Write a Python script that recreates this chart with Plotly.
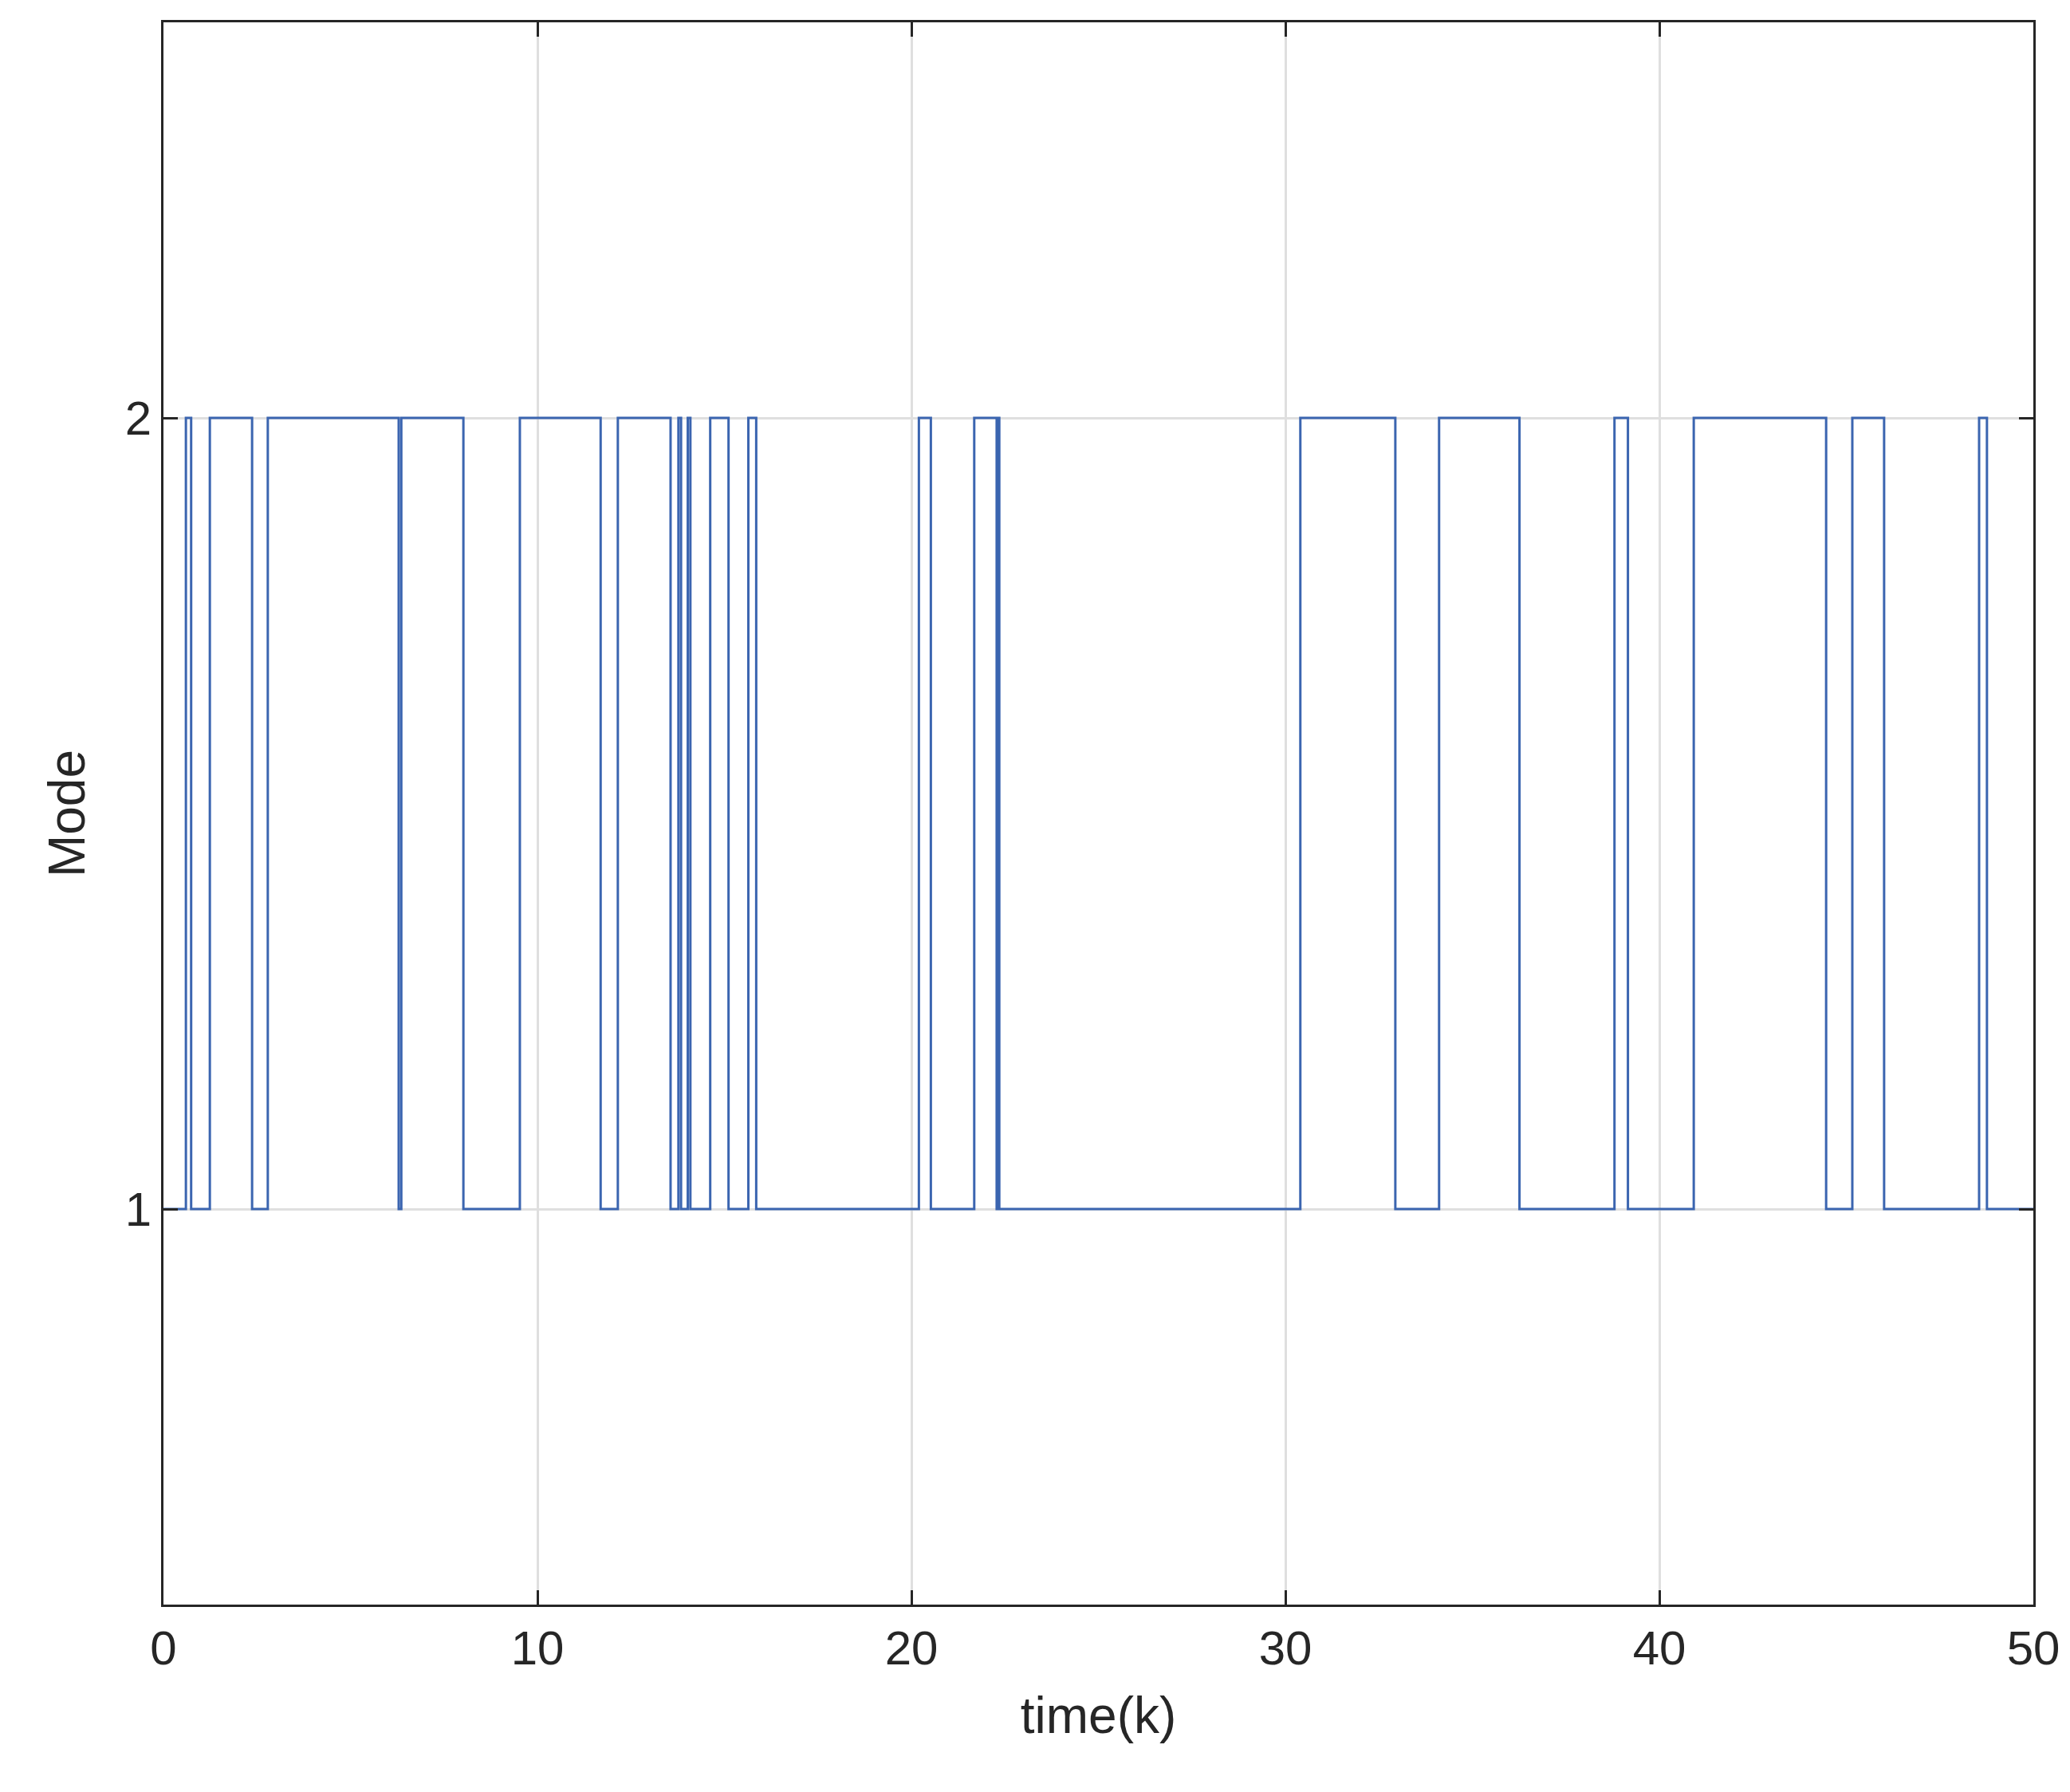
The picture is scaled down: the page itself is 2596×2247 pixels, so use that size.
import plotly.graph_objects as go

# switching times and mode after each switch
times = [0, 0.6, 0.74, 1.24, 2.37, 2.79, 6.29, 6.36, 8.02, 9.53, 11.69, 12.15, 13.56, 13.77,
         13.84, 14.02, 14.09, 14.62, 15.11, 15.64, 15.85, 20.2, 20.52, 21.68, 22.28, 22.31,
         22.35, 30.4, 32.94, 34.11, 36.26, 38.8, 39.16, 40.92, 44.46, 45.16, 46.01, 48.55,
         48.76, 50]
modes = [1, 2, 1, 2, 1, 2, 1, 2, 1, 2, 1, 2, 1, 2,
         1, 2, 1, 2, 1, 2, 1, 2, 1, 2, 1, 2,
         1, 2, 1, 2, 1, 2, 1, 2, 1, 2, 1, 2,
         1, 1]

fig = go.Figure(go.Scatter(x=times, y=modes, mode="lines", line_shape="hv",
                           line=dict(color="#3b65b0", width=3)))
axis_common = dict(showline=True, linecolor="#262626", linewidth=3, mirror="ticks",
                   ticks="inside", ticklen=18, tickwidth=3, tickcolor="#262626",
                   showgrid=True, gridcolor="#dfdfdf", gridwidth=3, zeroline=False,
                   tickfont=dict(size=60, color="#262626"))
fig.update_xaxes(range=[0, 50], tickvals=[0, 10, 20, 30, 40, 50],
                 title=dict(text="time(k)", font=dict(size=64, color="#262626"), standoff=30),
                 **axis_common)
fig.update_yaxes(range=[0.5, 2.5], tickvals=[1, 2],
                 title=dict(text="Mode", font=dict(size=64, color="#262626"), standoff=30),
                 **axis_common)
fig.update_layout(width=2596, height=2247, plot_bgcolor="white", paper_bgcolor="white",
                  font=dict(family="Liberation Sans"), showlegend=False,
                  margin=dict(l=197, r=54, t=20, b=243))
fig.write_html("out.html")
